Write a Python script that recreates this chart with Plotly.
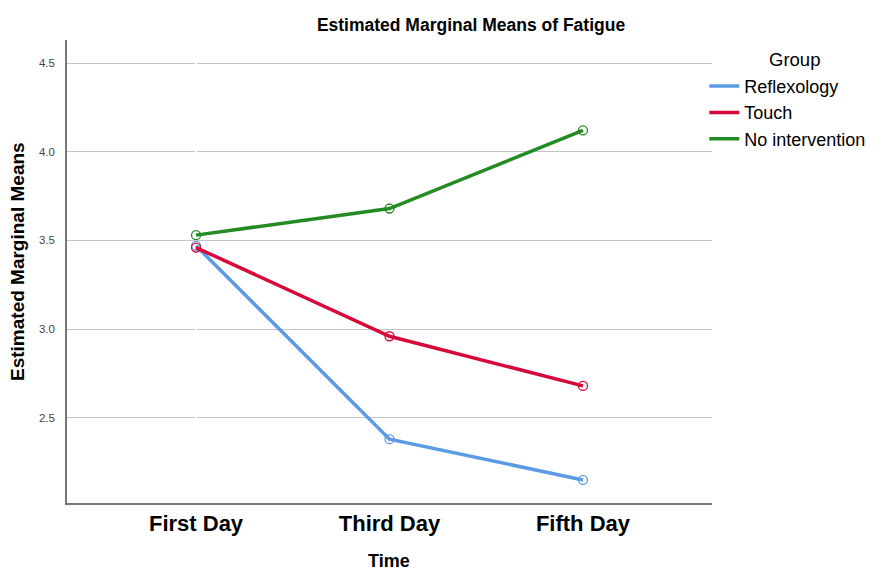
import plotly.graph_objects as go

times = ["First Day", "Third Day", "Fifth Day"]
groups = ["Reflexology", "Touch", "No intervention"]
reflexology = [3.47, 2.38, 2.15]
touch = [3.46, 2.96, 2.68]
no_intervention = [3.53, 3.68, 4.12]
y_ticks = [2.5, 3.0, 3.5, 4.0, 4.5]

colors = ["#5b9be6", "#d6093a", "#228b22"]
series = [reflexology, touch, no_intervention]

# page body has an 8px margin; figure coordinates are offset accordingly
L, T, R, B = 59, 32, 171, 76
W, H = 875, 571
PW, PH = W - L - R, H - T - B

fig = go.Figure()
for name, vals, col in zip(groups, series, colors):
    fig.add_trace(go.Scatter(
        x=[0, 1, 2], y=vals, name=name, mode="lines+markers", showlegend=False,
        line=dict(color=col, width=3.5),
        marker=dict(symbol="circle-open", size=9, color=col, line=dict(width=1.3)),
    ))
for name, col in zip(groups, colors):
    fig.add_trace(go.Scatter(
        x=[None], y=[None], name=name, mode="lines",
        line=dict(color=col, width=3.5), showlegend=True,
    ))

fig.update_layout(
    width=W, height=H,
    margin=dict(l=L, r=R, t=T, b=B, autoexpand=False),
    paper_bgcolor="white", plot_bgcolor="white",
    font=dict(family="Liberation Sans, Arial, sans-serif", color="#000"),
    title=dict(text="<b>Estimated Marginal Means of Fatigue</b>", x=463 / W, xanchor="center",
               y=1 - 17 / H, yanchor="middle", font=dict(size=17.5)),
    legend=dict(x=(702 - 5.7 - L) / PW, y=0.940, xanchor="left", yanchor="top",
                font=dict(size=18), itemwidth=30, tracegroupgap=0,
                bgcolor="rgba(0,0,0,0)"),
    showlegend=True,
)
fig.add_annotation(text="Group", xref="paper", yref="paper",
                   x=(786 - L) / PW, y=1 - (51 - T) / PH, xanchor="center", yanchor="middle",
                   showarrow=False, font=dict(size=18.5))
fig.add_annotation(text="<b>Estimated Marginal Means</b>", xref="paper", yref="paper",
                   x=(10 - L) / PW, y=1 - (254 - T) / PH, xanchor="center", yanchor="middle",
                   textangle=-90, showarrow=False, font=dict(size=19))
fig.add_annotation(text="<b>Time</b>", xref="paper", yref="paper",
                   x=(381 - L) / PW, y=1 - (553 - T) / PH, xanchor="center", yanchor="middle",
                   showarrow=False, font=dict(size=18))
fig.update_xaxes(
    range=[-0.667, 2.667], tickvals=[0, 1, 2], ticktext=["<b>%s</b>" % t for t in times],
    showgrid=False, showline=True, linecolor="#777", linewidth=1.5, automargin=False,
    ticks="", tickfont=dict(size=22, color="#000"),
)
fig.update_yaxes(
    range=[2.02, 4.63], tickvals=y_ticks, ticktext=["%.1f" % v for v in y_ticks],
    showgrid=True, gridcolor="#c4c4c4", gridwidth=1, zeroline=False, automargin=False,
    showline=True, linecolor="#777", linewidth=1.5, ticks="", ticklabelstandoff=8,
    tickfont=dict(size=11.5, color="#444"),
)
fig.add_shape(type="line", xref="paper", yref="y", x0=0, x1=1, y0=4.0, y1=4.0,
              line=dict(color="#f2f2f2", width=1), layer="below")

fig.write_html("out.html")
